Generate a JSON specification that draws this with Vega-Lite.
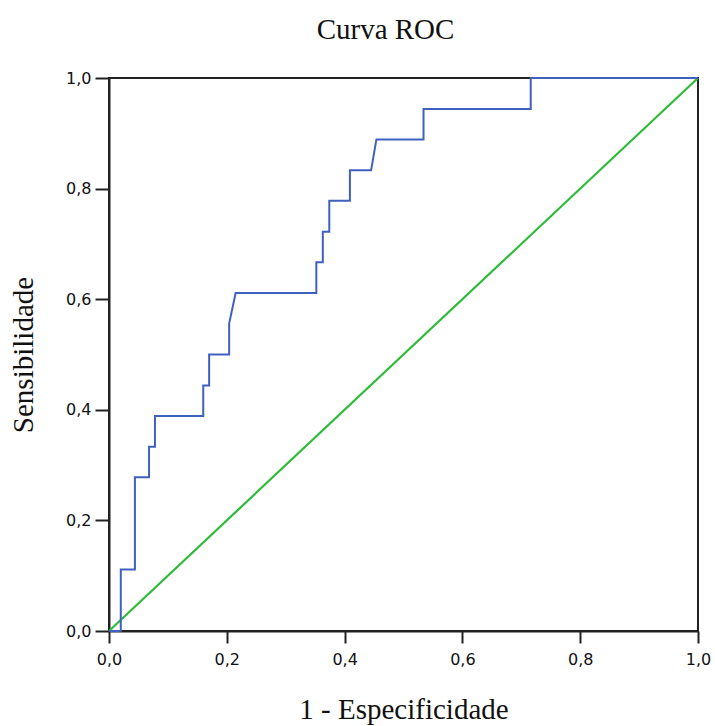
{
  "$schema": "https://vega.github.io/schema/vega-lite/v6.json",
  "width": 589,
  "height": 553,
  "autosize": "none",
  "padding": {"left": 109, "top": 78, "right": 17, "bottom": 95},
  "background": "white",
  "title": {"text": "Curva ROC", "font": "Liberation Serif", "fontSize": 29, "fontWeight": "normal", "color": "#111111", "dx": -18, "offset": 25},
  "config": {
    "view": {"stroke": "#222222", "strokeWidth": 2},
    "axis": {
      "grid": false,
      "domainColor": "#222222",
      "domainWidth": 2,
      "tickColor": "#222222",
      "tickWidth": 2,
      "tickSize": 14,
      "labelFont": "DejaVu Sans",
      "labelFontSize": 16,
      "labelColor": "#111111",
      "labelFlush": false,
      "titleFont": "Liberation Serif",
      "titleFontSize": 29,
      "titleFontWeight": "normal",
      "titleColor": "#111111"
    }
  },
  "layer": [
    {
      "data": {"values": [{"x": 0, "y": 0, "i": 0}, {"x": 1, "y": 1, "i": 1}]},
      "mark": {"type": "line", "color": "#2fbb3a", "strokeWidth": 2.2},
      "encoding": {
        "x": {"field": "x", "type": "quantitative"},
        "y": {"field": "y", "type": "quantitative"},
        "order": {"field": "i"}
      }
    },
    {
      "data": {"values": [
        {"i": 0, "x": 0, "y": 0},
        {"i": 1, "x": 0.020, "y": 0},
        {"i": 2, "x": 0.020, "y": 0.111},
        {"i": 3, "x": 0.044, "y": 0.111},
        {"i": 4, "x": 0.044, "y": 0.278},
        {"i": 5, "x": 0.068, "y": 0.278},
        {"i": 6, "x": 0.068, "y": 0.333},
        {"i": 7, "x": 0.078, "y": 0.333},
        {"i": 8, "x": 0.078, "y": 0.389},
        {"i": 9, "x": 0.160, "y": 0.389},
        {"i": 10, "x": 0.160, "y": 0.444},
        {"i": 11, "x": 0.170, "y": 0.444},
        {"i": 12, "x": 0.170, "y": 0.5},
        {"i": 13, "x": 0.204, "y": 0.5},
        {"i": 14, "x": 0.204, "y": 0.556},
        {"i": 15, "x": 0.215, "y": 0.611},
        {"i": 16, "x": 0.352, "y": 0.611},
        {"i": 17, "x": 0.352, "y": 0.667},
        {"i": 18, "x": 0.363, "y": 0.667},
        {"i": 19, "x": 0.363, "y": 0.722},
        {"i": 20, "x": 0.374, "y": 0.722},
        {"i": 21, "x": 0.374, "y": 0.778},
        {"i": 22, "x": 0.409, "y": 0.778},
        {"i": 23, "x": 0.409, "y": 0.833},
        {"i": 24, "x": 0.445, "y": 0.833},
        {"i": 25, "x": 0.454, "y": 0.889},
        {"i": 26, "x": 0.534, "y": 0.889},
        {"i": 27, "x": 0.534, "y": 0.944},
        {"i": 28, "x": 0.716, "y": 0.944},
        {"i": 29, "x": 0.716, "y": 1},
        {"i": 30, "x": 1, "y": 1}
      ]},
      "mark": {"type": "line", "color": "#4060c0", "strokeWidth": 2},
      "encoding": {
        "x": {
          "field": "x", "type": "quantitative",
          "scale": {"domain": [0, 1], "nice": false},
          "axis": {"title": "1 - Especificidade", "values": [0, 0.2, 0.4, 0.6, 0.8, 1], "labelExpr": "replace(format(datum.value, '.1f'), '.', ',')", "tickSize": 12, "labelPadding": 8, "titlePadding": 28}
        },
        "y": {
          "field": "y", "type": "quantitative",
          "scale": {"domain": [0, 1], "nice": false},
          "axis": {"title": "Sensibilidade", "values": [0, 0.2, 0.4, 0.6, 0.8, 1], "labelExpr": "replace(format(datum.value, '.1f'), '.', ',')", "labelPadding": 4, "titlePadding": 27}
        },
        "order": {"field": "i"}
      }
    }
  ]
}
